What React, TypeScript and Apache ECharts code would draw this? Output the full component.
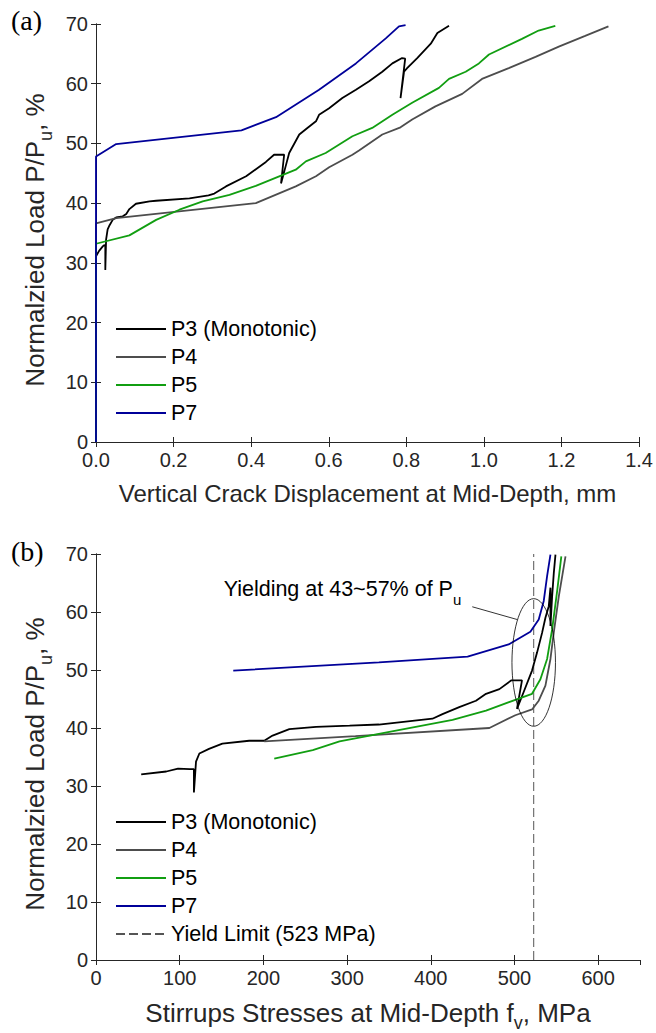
import React, { useEffect, useRef } from "react";
import * as echarts from "echarts";

// (a) vertical crack displacement (mm) vs normalized load (%)
const crackP3: number[][] = [
  [0, 0], [0, 17], [0, 31.1], [0.008, 32.0], [0.018, 32.8], [0.022, 33.0], [0.024, 32.8],
  [0.024, 28.8], [0.026, 33.9], [0.03, 35.6], [0.035, 36.3], [0.043, 37.2], [0.052, 37.6],
  [0.069, 37.8], [0.078, 38.2], [0.086, 39.0], [0.103, 39.9], [0.138, 40.3], [0.155, 40.4],
  [0.241, 40.8], [0.29, 41.3], [0.305, 41.6], [0.335, 42.8], [0.387, 44.5], [0.438, 46.9],
  [0.459, 48.1], [0.485, 48.1], [0.477, 43.3], [0.489, 46.2], [0.498, 48.4], [0.524, 51.5],
  [0.549, 52.8], [0.567, 53.7], [0.575, 54.8], [0.601, 55.9], [0.635, 57.6], [0.67, 59.0],
  [0.704, 60.4], [0.738, 62.0], [0.764, 63.4], [0.789, 64.3], [0.797, 64.2], [0.785, 57.6],
  [0.794, 62.0], [0.802, 62.6], [0.828, 64.3], [0.863, 66.7], [0.88, 68.5], [0.91, 69.7],
];
const crackP4: number[][] = [
  [0, 0], [0, 36.6], [0.052, 37.5], [0.412, 40.0], [0.515, 42.8], [0.567, 44.5], [0.601, 46.0],
  [0.661, 48.1], [0.678, 48.8], [0.738, 51.5], [0.785, 52.7], [0.815, 54.0], [0.875, 56.2],
  [0.944, 58.3], [0.995, 60.8], [1.064, 62.6], [1.133, 64.5], [1.193, 66.2], [1.261, 68.0],
  [1.321, 69.6],
];
const crackP5: number[][] = [
  [0, 0], [0, 33.2], [0.086, 34.6], [0.155, 37.2], [0.215, 38.9], [0.275, 40.3], [0.344, 41.4],
  [0.412, 42.9], [0.515, 45.6], [0.541, 47.0], [0.592, 48.4], [0.661, 51.2], [0.712, 52.6],
  [0.764, 54.8], [0.815, 56.8], [0.884, 59.3], [0.91, 60.8], [0.953, 62.0], [0.987, 63.4],
  [1.013, 64.9], [1.098, 67.5], [1.141, 68.9], [1.184, 69.7],
];
const crackP7: number[][] = [
  [0, 0], [0, 47.8], [0.052, 49.9], [0.375, 52.2], [0.464, 54.4], [0.575, 59.0], [0.67, 63.4],
  [0.747, 67.6], [0.781, 69.6], [0.798, 69.8],
];

// (b) stirrup stress (MPa) vs normalized load (%)
const stressP3: number[][] = [
  [54, 32.0], [84, 32.5], [98, 33.0], [112, 32.9], [117, 32.9], [117, 28.9], [119.5, 34.2],
  [123.5, 35.6], [135, 36.4], [151, 37.3], [183, 37.8], [201, 37.8], [211, 38.7], [231, 39.8],
  [263, 40.2], [303, 40.4], [338, 40.6], [402, 41.6], [414, 42.4], [434, 43.6], [454, 44.7],
  [466, 45.9], [482, 46.7], [496, 48.2], [509, 48.2], [503, 43.3], [511, 46.2], [521, 49.9],
  [527, 53.0], [533, 56.4], [537, 59.0], [541, 61.0], [543, 64.2], [543, 57.6], [545, 62.7],
  [547, 66.7], [549, 69.9],
];
const stressP4: number[][] = [
  [201, 37.7], [310, 38.6], [470, 40.0], [501, 42.2], [521, 43.2], [529, 44.7], [537, 47.3],
  [543, 51.9], [547, 56.5], [553, 62.7], [561, 69.6],
];
const stressP5: number[][] = [
  [213, 34.7], [259, 36.2], [291, 37.7], [338, 39.0], [426, 41.4], [466, 43.0], [521, 45.9],
  [531, 48.4], [539, 51.9], [545, 57.0], [551, 63.6], [556, 69.6],
];
const stressP7: number[][] = [
  [164, 49.9], [338, 51.3], [444, 52.3], [493, 54.4], [519, 56.6], [529, 58.7], [535, 61.9],
  [539, 66.2], [543, 69.9],
];

const yieldStress = 523;
const yieldLine: number[][] = [[yieldStress, 0], [yieldStress, 70]];

// Yielding zone annotation: ellipse (centre, radii) and leader line, in data units
const yieldZoneCenter = [523, 51.3];
const yieldZoneRadii = [26, 11];
const leaderLine: number[][] = [[449.6, 60.9], [503.3, 58.7]];
const noteAnchor = [152.5, 63.9];
const noteText = "Yielding at 43~57% of P";
const noteSub = "u";

const seriesNames = ["P3 (Monotonic)", "P4", "P5", "P7"];
const yieldName = "Yield Limit (523 MPa)";
const colors = ["#000000", "#4d4d4d", "#119e11", "#000099"];

const FONT = "Liberation Sans, Arial, sans-serif";
const SERIF = "Liberation Serif, Times New Roman, serif";
const INK = "#262626";

function boxAxes(gridIndex: number, xMax: number, xInterval: number, showMax: boolean, fmt: (v: number) => string) {
  const line = { show: true, lineStyle: { color: INK, width: 1 } };
  const tick = { show: true, inside: true, length: 5, lineStyle: { color: INK, width: 1 } };
  const x: any[] = [
    {
      type: "value", gridIndex, position: "bottom", min: 0, max: xMax, interval: xInterval,
      axisLine: line, axisTick: tick, splitLine: { show: false },
      axisLabel: { color: INK, fontSize: 20, fontFamily: FONT, margin: 8, formatter: fmt, showMaxLabel: showMax },
    },
    {
      type: "value", gridIndex, position: "top", min: 0, max: xMax, interval: xInterval,
      axisLine: line, axisTick: tick, splitLine: { show: false }, axisLabel: { show: false },
    },
  ];
  const y: any[] = [
    {
      type: "value", gridIndex, position: "left", min: 0, max: 70, interval: 10,
      axisLine: line, axisTick: tick, splitLine: { show: false },
      axisLabel: { color: INK, fontSize: 20, fontFamily: FONT, margin: 8 },
      name: "{n|Normalzied Load P/P}{s|u}{n|, %}",
      nameLocation: "middle", nameRotate: 90, nameGap: 39,
      nameTextStyle: {
        padding: [0, 14, 0, 0],
        rich: {
          n: { fontSize: 26, fontFamily: FONT, color: INK, lineHeight: 40 },
          s: { fontSize: 18, fontFamily: FONT, color: INK, verticalAlign: "bottom" },
        },
      },
    },
    {
      type: "value", gridIndex, position: "right", min: 0, max: 70, interval: 10,
      axisLine: line, axisTick: tick, splitLine: { show: false }, axisLabel: { show: false },
    },
  ];
  return { x, y };
}

function lineSeries(name: string, data: number[][], color: string, axisIndex: number, dashed = false) {
  return {
    type: "line", name, data, xAxisIndex: axisIndex, yAxisIndex: axisIndex,
    symbol: "none", showSymbol: false, smooth: false, silent: true,
    lineStyle: { color, width: dashed ? 1 : 1.8, type: dashed ? [9, 4] : "solid" },
    itemStyle: { color },
    z: dashed ? 1 : 3,
  };
}

export default function App() {
  const ref = useRef<HTMLDivElement>(null);

  useEffect(() => {
    if (!ref.current) return;
    const chart = echarts.init(ref.current, null, { renderer: "svg" });

    const a = boxAxes(0, 1.4, 0.2, true, (v: number) => v.toFixed(1));
    const b = boxAxes(1, 650, 100, false, (v: number) => String(Math.round(v)));
    Object.assign(a.x[0], {
      name: "Vertical Crack Displacement at Mid-Depth, mm",
      nameLocation: "middle",
      nameGap: 39,
      nameTextStyle: { fontSize: 24, fontFamily: FONT, color: INK },
    });
    Object.assign(b.x[0], {
      name: "{n|Stirrups Stresses at Mid-Depth f}{s|v}{n|, MPa}",
      nameLocation: "middle",
      nameGap: 34,
      nameTextStyle: {
        rich: {
          n: { fontSize: 26, fontFamily: FONT, color: INK, lineHeight: 38 },
          s: { fontSize: 18, fontFamily: FONT, color: INK, verticalAlign: "bottom" },
        },
      },
    });

    const legendBase = {
      orient: "vertical", left: 115, padding: 0, itemWidth: 50, itemHeight: 14, itemGap: 6,
      selectedMode: false,
      itemStyle: { opacity: 0 },
      textStyle: { fontSize: 21.5, fontFamily: FONT, color: "#000", lineHeight: 22 },
    };

    const series: any[] = [
      lineSeries(seriesNames[0], crackP3, colors[0], 0),
      lineSeries(seriesNames[1], crackP4, colors[1], 0),
      lineSeries(seriesNames[2], crackP5, colors[2], 0),
      lineSeries(seriesNames[3], crackP7, colors[3], 0),
      lineSeries(yieldName, yieldLine, "#555555", 2, true),
      lineSeries(seriesNames[0], stressP3, colors[0], 2),
      lineSeries(seriesNames[1], stressP4, colors[1], 2),
      lineSeries(seriesNames[2], stressP5, colors[2], 2),
      lineSeries(seriesNames[3], stressP7, colors[3], 2),
      {
        type: "custom", xAxisIndex: 2, yAxisIndex: 2, silent: true, z: 5,
        data: [yieldZoneCenter],
        renderItem: (_params: any, api: any) => {
          const c = api.coord(yieldZoneCenter);
          const r = api.size(yieldZoneRadii);
          const p1 = api.coord(leaderLine[0]);
          const p2 = api.coord(leaderLine[1]);
          const t = api.coord(noteAnchor);
          return {
            type: "group",
            children: [
              {
                type: "ellipse",
                shape: { cx: c[0], cy: c[1], rx: r[0], ry: r[1] },
                style: { fill: "none", stroke: "#000", lineWidth: 0.8 },
              },
              {
                type: "line",
                shape: { x1: p1[0], y1: p1[1], x2: p2[0], y2: p2[1] },
                style: { stroke: "#000", lineWidth: 0.8 },
              },
              {
                type: "text", x: t[0], y: t[1],
                style: {
                  text: `{n|${noteText}}{s|${noteSub}}`,
                  align: "left", verticalAlign: "middle",
                  rich: {
                    n: { fontSize: 21.5, fontFamily: FONT, fill: "#000", lineHeight: 36 },
                    s: { fontSize: 15, fontFamily: FONT, fill: "#000", verticalAlign: "bottom" },
                  },
                },
              },
            ],
          };
        },
      },
    ];

    chart.setOption({
      animation: false,
      backgroundColor: "#ffffff",
      grid: [
        { left: 96, top: 24, width: 544, height: 418 },
        { left: 96, top: 554, width: 544, height: 408 },
      ],
      xAxis: [...a.x, ...b.x],
      yAxis: [...a.y, ...b.y],
      legend: [
        { ...legendBase, top: 318, data: seriesNames },
        { ...legendBase, top: 811, data: [...seriesNames, yieldName] },
      ],
      graphic: [
        { type: "text", left: 11, top: 6, style: { text: "(a)", fontSize: 28, fontFamily: SERIF, fill: "#000" } },
        { type: "text", left: 11, top: 537, style: { text: "(b)", fontSize: 28, fontFamily: SERIF, fill: "#000" } },
      ],
      series,
    });

    return () => chart.dispose();
  }, []);

  return (
    <div
      ref={ref}
      style={{ position: "absolute", left: 0, top: 0, width: 656, height: 1033, background: "#fff" }}
    />
  );
}
